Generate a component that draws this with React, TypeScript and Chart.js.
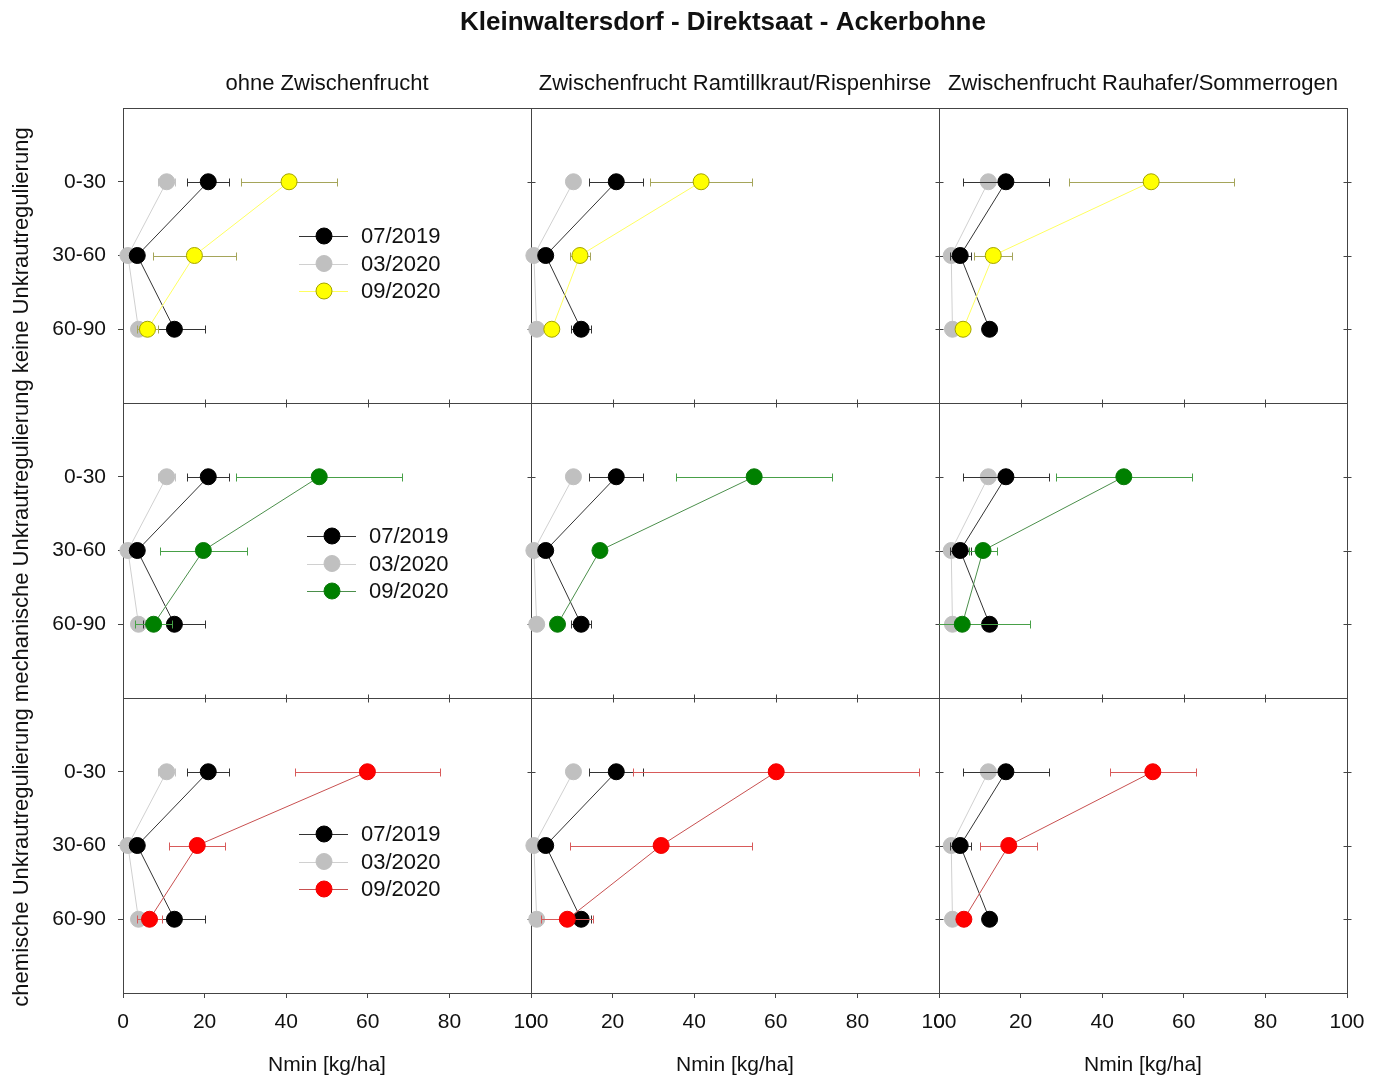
import React, { useEffect, useRef } from 'react';
import { Chart, registerables } from 'chart.js';

Chart.register(...registerables);

const FONT = '"Liberation Sans", Arial, Helvetica, sans-serif';

const chartTitle = 'Kleinwaltersdorf - Direktsaat - Ackerbohne';
const coverCrops = [
  'ohne Zwischenfrucht',
  'Zwischenfrucht Ramtillkraut/Rispenhirse',
  'Zwischenfrucht Rauhafer/Sommerrogen',
];
const weedControl = [
  'keine Unkrautregulierung',
  'mechanische Unkrautregulierung',
  'chemische Unkrautregulierung',
];
const depths = ['0-30', '30-60', '60-90'];
const xTickValues = [0, 20, 40, 60, 80, 100];
const xAxisTitle = 'Nmin [kg/ha]';
const dates = ['07/2019', '03/2020', '09/2020'];

// Nmin [kg/ha] per cover-crop column, depths 0-30 / 30-60 / 60-90
const nmin072019 = [
  [20.9, 3.5, 12.6],
  [20.9, 3.6, 12.3],
  [16.4, 5.2, 12.4],
];
const err072019 = [
  [5.2, 0, 7.6],
  [6.6, 0, 2.5],
  [10.5, 2.6, 0],
];
const nmin032020 = [
  [10.7, 1.2, 3.8],
  [10.4, 0.7, 1.4],
  [12.1, 3.0, 3.3],
];
const err032020 = [
  [2.1, 0, 0],
  [0, 0, 0],
  [0, 0, 0],
];
// 09/2020 per weed-control row, then cover-crop column
const nmin092020 = [
  [[40.7, 17.5, 6.0], [41.7, 12.0, 5.1], [52.0, 13.3, 5.9]],
  [[48.1, 19.7, 7.5], [54.7, 16.9, 6.5], [45.3, 10.8, 5.7]],
  [[59.9, 18.2, 6.5], [60.1, 31.9, 8.9], [52.4, 17.1, 6.1]],
];
const err092020 = [
  [[11.7, 10.2, 2.6], [12.5, 2.5, 0], [20.2, 4.6, 0]],
  [[20.3, 10.6, 4.6], [19.1, 0, 0], [16.7, 3.5, 16.5]],
  [[17.8, 6.9, 3.1], [35.0, 22.3, 6.4], [10.5, 7.0, 0]],
];

const baseStyles = [
  { fill: '#000000', border: '#000000', line: '#333333', error: '#333333' },
  { fill: '#c0c0c0', border: '#c0c0c0', line: '#d0d0d0', error: '#c4c4c4' },
];
const autumnStyles = [
  { fill: '#ffff00', border: '#a3a300', line: '#ffff60', error: '#a5a55a' },
  { fill: '#008000', border: '#0c7a0c', line: '#4b8f4b', error: '#47a047' },
  { fill: '#ff0000', border: '#f00000', line: '#c85050', error: '#d85a5a' },
];

// legend placement inside the first panel of each row (px from panel corner)
const legendAnchors = [
  { dx: 176, dy: 128 },
  { dx: 184, dy: 133 },
  { dx: 176, dy: 136 },
];
const legendGap = 27.5;

const crisp = (v: number) => Math.round(v) + 0.5;

function buildDatasets() {
  const out: any[] = [];
  for (let r = 0; r < 3; r++) {
    for (let c = 0; c < 3; c++) {
      const series = [
        { label: dates[2], values: nmin092020[r][c], errors: err092020[r][c], style: autumnStyles[r] },
        { label: dates[0], values: nmin072019[c], errors: err072019[c], style: baseStyles[0] },
        { label: dates[1], values: nmin032020[c], errors: err032020[c], style: baseStyles[1] },
      ];
      series.forEach((s) => {
        out.push({
          label: s.label,
          data: s.values.map((v, i) => ({ x: v, y: i + 1 })),
          xAxisID: `x${c}`,
          yAxisID: `y${r}`,
          showLine: true,
          borderColor: s.style.line,
          borderWidth: 1,
          pointRadius: 8,
          pointBackgroundColor: s.style.fill,
          pointBorderColor: s.style.border,
          pointBorderWidth: 1,
          clip: false,
          errors: s.errors,
          errorColor: s.style.error,
        });
      });
    }
  }
  return out;
}

// horizontal error bars, drawn just beneath each series' own markers
const errorBarPlugin = {
  id: 'errorBars',
  beforeDatasetDraw(chart: any, args: any) {
    const ds = chart.data.datasets[args.index];
    if (!ds.errors) return;
    const xs = chart.scales[ds.xAxisID];
    const ys = chart.scales[ds.yAxisID];
    const ctx = chart.ctx;
    ctx.save();
    ctx.beginPath();
    ctx.rect(xs.left, ys.top, xs.right - xs.left, ys.bottom - ys.top);
    ctx.clip();
    ctx.strokeStyle = ds.errorColor;
    ctx.lineWidth = 1;
    ctx.beginPath();
    ds.data.forEach((p: any, i: number) => {
      const e = ds.errors[i];
      if (!e) return;
      const y = crisp(ys.getPixelForValue(p.y));
      const x1 = crisp(xs.getPixelForValue(p.x - e));
      const x2 = crisp(xs.getPixelForValue(p.x + e));
      ctx.moveTo(x1, y);
      ctx.lineTo(x2, y);
      ctx.moveTo(x1, y - 4);
      ctx.lineTo(x1, y + 4);
      ctx.moveTo(x2, y - 4);
      ctx.lineTo(x2, y + 4);
    });
    ctx.stroke();
    ctx.restore();
  },
};

// panel frames and the inner tick marks between the panels
const panelFramePlugin = {
  id: 'panelFrames',
  beforeDatasetsDraw(chart: any) {
    const ctx = chart.ctx;
    const xs = [0, 1, 2].map((c) => chart.scales[`x${c}`]);
    const ys = [0, 1, 2].map((r) => chart.scales[`y${r}`]);
    const left = xs[0].left;
    const right = xs[2].right;
    const top = ys[0].top;
    const bottom = ys[2].bottom;
    ctx.save();
    ctx.strokeStyle = '#444444';
    ctx.lineWidth = 1;
    ctx.beginPath();
    ctx.moveTo(left, crisp(top));
    ctx.lineTo(right, crisp(top));
    ys.forEach((y: any, r: number) => {
      if (r === 2) return;
      const yy = crisp(y.bottom);
      ctx.moveTo(left, yy);
      ctx.lineTo(right, yy);
      xs.forEach((x: any) =>
        xTickValues.forEach((v) => {
          const xx = crisp(x.getPixelForValue(v));
          ctx.moveTo(xx, yy - 4);
          ctx.lineTo(xx, yy + 4);
        })
      );
    });
    xs.forEach((x: any) => {
      const xx = crisp(x.right);
      ctx.moveTo(xx, top);
      ctx.lineTo(xx, bottom);
      ys.forEach((y: any) =>
        depths.forEach((_, i) => {
          const yy = crisp(y.getPixelForValue(i + 1));
          ctx.moveTo(xx - 4, yy);
          ctx.lineTo(xx + 4, yy);
        })
      );
    });
    ctx.stroke();
    ctx.restore();
  },
};

const legendPlugin = {
  id: 'rowLegends',
  afterDatasetsDraw(chart: any) {
    const ctx = chart.ctx;
    const x0 = chart.scales.x0;
    for (let r = 0; r < 3; r++) {
      const ys = chart.scales[`y${r}`];
      const a = legendAnchors[r];
      const entries = [
        { label: dates[0], style: baseStyles[0] },
        { label: dates[1], style: baseStyles[1] },
        { label: dates[2], style: autumnStyles[r] },
      ];
      entries.forEach((e, k) => {
        const lx = x0.left + a.dx;
        const y = ys.top + a.dy + k * legendGap;
        ctx.save();
        ctx.strokeStyle = e.style.line;
        ctx.lineWidth = 1;
        ctx.beginPath();
        ctx.moveTo(lx, crisp(y));
        ctx.lineTo(lx + 49, crisp(y));
        ctx.stroke();
        ctx.beginPath();
        ctx.arc(lx + 25, y, 8, 0, Math.PI * 2);
        ctx.fillStyle = e.style.fill;
        ctx.fill();
        ctx.strokeStyle = e.style.border;
        ctx.stroke();
        ctx.fillStyle = '#111111';
        ctx.font = `22px ${FONT}`;
        ctx.textAlign = 'left';
        ctx.textBaseline = 'middle';
        ctx.fillText(e.label, lx + 62, y + 1);
        ctx.restore();
      });
    }
  },
};

const headingsPlugin = {
  id: 'headings',
  afterDraw(chart: any) {
    const ctx = chart.ctx;
    ctx.save();
    ctx.fillStyle = '#111111';
    ctx.textBaseline = 'middle';
    ctx.textAlign = 'center';
    ctx.font = `bold 26px ${FONT}`;
    ctx.fillText(chartTitle, 723, 23);
    ctx.font = `22px ${FONT}`;
    coverCrops.forEach((t, c) => {
      const s = chart.scales[`x${c}`];
      ctx.fillText(t, (s.left + s.right) / 2, 84);
    });
    ctx.translate(22, 567);
    ctx.rotate(-Math.PI / 2);
    ctx.fillText([...weedControl].reverse().join(' '), 0, 0);
    ctx.restore();
  },
};

function buildScales() {
  const scales: any = {};
  const tickFont = { family: FONT, size: 21 };
  for (let c = 0; c < 3; c++) {
    scales[`x${c}`] = {
      type: 'linear',
      axis: 'x',
      position: 'bottom',
      stack: 'columns',
      stackWeight: 1,
      weight: c + 1,
      min: 0,
      max: 100,
      afterBuildTicks: (s: any) => {
        s.ticks = xTickValues.map((v) => ({ value: v }));
      },
      afterFit: (s: any) => {
        s.height = 85;
      },
      ticks: { autoSkip: false, maxRotation: 0, padding: 12, color: '#111111', font: tickFont },
      grid: { display: true, drawOnChartArea: false, drawTicks: true, tickLength: 5, color: '#444444' },
      border: { display: true, color: '#444444', width: 1 },
      title: {
        display: true,
        text: xAxisTitle,
        color: '#111111',
        font: { family: FONT, size: 21 },
        padding: { top: 0, bottom: 0 },
      },
    };
  }
  for (let r = 0; r < 3; r++) {
    scales[`y${r}`] = {
      type: 'linear',
      axis: 'y',
      position: 'left',
      stack: 'rows',
      stackWeight: 1,
      weight: 3 - r,
      min: 0,
      max: 4,
      reverse: true,
      afterBuildTicks: (s: any) => {
        s.ticks = depths.map((_, i) => ({ value: i + 1 }));
      },
      afterFit: (s: any) => {
        s.width = 123;
      },
      ticks: {
        autoSkip: false,
        padding: 12,
        color: '#111111',
        font: tickFont,
        callback: (v: number) => depths[v - 1] ?? '',
      },
      grid: { display: true, drawOnChartArea: false, drawTicks: true, tickLength: 5, color: '#444444' },
      border: { display: true, color: '#444444', width: 1 },
      title: { display: false },
    };
  }
  return scales;
}

export default function App() {
  const canvasRef = useRef<HTMLCanvasElement | null>(null);

  useEffect(() => {
    if (!canvasRef.current) return;
    Chart.defaults.color = '#111111';
    const chart = new Chart(canvasRef.current, {
      type: 'scatter',
      data: { datasets: buildDatasets() },
      options: {
        animation: false,
        responsive: false,
        devicePixelRatio: 1,
        events: [],
        layout: { padding: { left: 0, right: 36, top: 108, bottom: 0 } },
        scales: buildScales(),
        plugins: {
          legend: { display: false },
          title: { display: false },
          tooltip: { enabled: false },
        },
      } as any,
      plugins: [panelFramePlugin, errorBarPlugin, legendPlugin, headingsPlugin],
    });
    return () => chart.destroy();
  }, []);

  return (
    <div style={{ position: 'absolute', left: 0, top: 0, width: 1383, height: 1078, background: '#ffffff' }}>
      <canvas ref={canvasRef} width={1383} height={1078} style={{ display: 'block', width: 1383, height: 1078 }} />
    </div>
  );
}
